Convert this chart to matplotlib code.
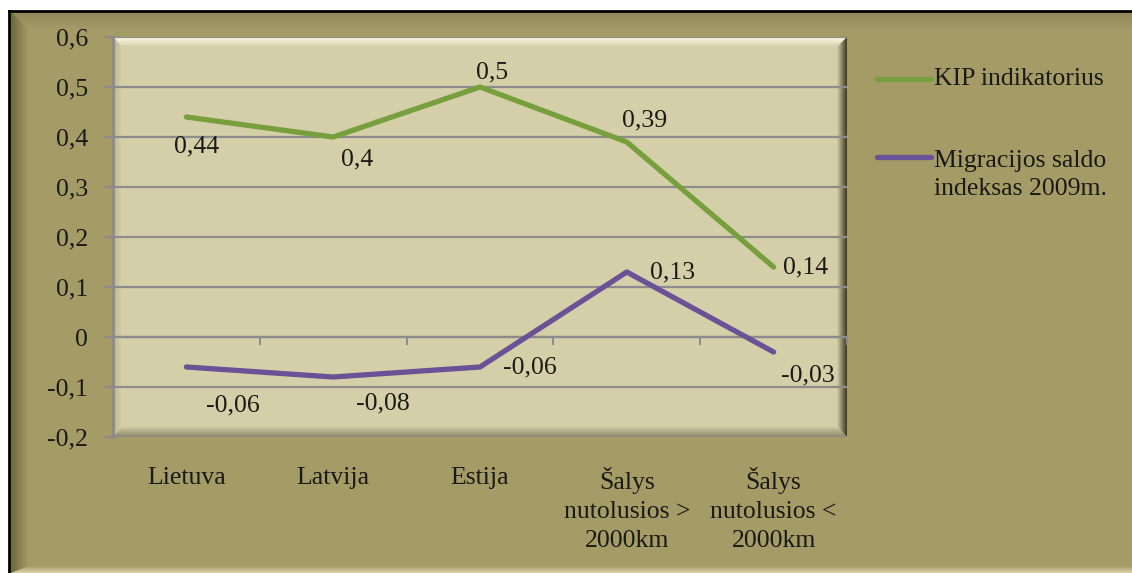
import matplotlib
matplotlib.use("Agg")
import matplotlib.pyplot as plt
from matplotlib.patches import Polygon, Rectangle
from matplotlib.lines import Line2D
from matplotlib.colors import to_rgb
import numpy as np

# ---------------- data ----------------
categories = ["Lietuva", "Latvija", "Estija",
              "Šalys\nnutolusios >\n2000km", "Šalys\nnutolusios <\n2000km"]
kip_values = [0.44, 0.4, 0.5, 0.39, 0.14]
migr_values = [-0.06, -0.08, -0.06, 0.13, -0.03]
series_names = ["KIP indikatorius", "Migracijos saldo\nindeksas 2009m."]
y_ticks = [-0.2, -0.1, 0, 0.1, 0.2, 0.3, 0.4, 0.5, 0.6]
y_tick_labels = ["-0,2", "-0,1", "0", "0,1", "0,2", "0,3", "0,4", "0,5", "0,6"]

# label offsets in pixels (dx, dy downwards positive)
kip_offsets = [(10, 29), (24, 22), (12, -15), (18, -22), (32, 0)]
migr_offsets = [(46, 38), (50, 26), (50, 0), (46, 0), (34, 23)]

W, H, DPI = 1132, 573, 100
FONT = "Liberation Serif"
FS = 18.5
TXT = "#1a1a14"
GREEN = "#789f3d"
PURPLE = "#6b5297"
OLIVE = "#a49b67"
PLOT_BG = "#d5cfa9"
GRID = "#8c8c8c"

plt.rcParams["font.family"] = [FONT, "DejaVu Serif"]

fig = plt.figure(figsize=(W / DPI, H / DPI), dpi=DPI)
fig.patch.set_facecolor("white")

# background axes in pixel coordinates
bg = fig.add_axes([0, 0, 1, 1], zorder=-5)
bg.set_xlim(0, W)
bg.set_ylim(H, 0)
bg.axis("off")


def grad(ax, verts, c0, c1, horizontal, z):
    xs = [v[0] for v in verts]
    ys = [v[1] for v in verts]
    x0, x1, y0, y1 = min(xs), max(xs), min(ys), max(ys)
    n = 64
    t = np.linspace(0, 1, n)
    a = np.array(to_rgb(c0))
    b = np.array(to_rgb(c1))
    cols = a[None, :] * (1 - t[:, None]) + b[None, :] * t[:, None]
    if horizontal:
        img = cols[None, :, :]
    else:
        img = cols[:, None, :]
    im = ax.imshow(img, extent=(x0, x1, y1, y0), origin="upper",
                   aspect="auto", interpolation="bilinear", zorder=z)
    poly = Polygon(verts, closed=True, transform=ax.transData,
                   facecolor="none", edgecolor="none")
    ax.add_patch(poly)
    im.set_clip_path(poly)


# outer chart area
bg.add_patch(Rectangle((9, 11), W - 9, H - 11, facecolor=OLIVE,
                       edgecolor="none", zorder=1))
# outer bevels
grad(bg, [(11, 12), (W, 12), (W, 30), (29, 30)], "#90875a", OLIVE, False, 2)
grad(bg, [(11, 12), (29, 30), (29, H - 7), (11, H)], "#6f6740", OLIVE, True, 2)
grad(bg, [(11, H), (29, H - 7), (W, H - 7), (W, H)], OLIVE, "#dcd5a6", False, 2)
bg.add_line(Line2D([9, W], [11, 11], color="black", lw=2.0, zorder=3))
bg.add_line(Line2D([9, 9], [11, H], color="black", lw=2.0, zorder=3))

# plot area (pixel bounds)
PL, PR, PT, PB = 113, 847, 37, 437
bg.add_patch(Rectangle((PL, PT), PR - PL, PB - PT, facecolor=PLOT_BG,
                       edgecolor="none", zorder=4))
grad(bg, [(PL, PT), (PR, PT), (PR - 9, PT + 10), (PL + 9, PT + 10)],
     "#fdfbe8", PLOT_BG, False, 5)
grad(bg, [(PL, PB), (PL + 9, PB - 11), (PR - 10, PB - 11), (PR, PB)],
     PLOT_BG, "#8c8766", False, 5)
grad(bg, [(PR - 10, PT + 10), (PR, PT), (PR, PB), (PR - 10, PB - 11)],
     PLOT_BG, "#3a3622", True, 5)
grad(bg, [(PL, PT), (PL + 9, PT + 10), (PL + 9, PB - 11), (PL, PB)],
     "#bdb790", PLOT_BG, True, 5)

# main axes
ax = fig.add_axes([PL / W, 1 - PB / H, (PR - PL) / W, (PB - PT) / H], zorder=1)
ax.patch.set_alpha(0)
ax.set_xlim(-0.5, len(categories) - 0.5)
ax.set_ylim(-0.2, 0.6)

ax.set_yticks(y_ticks)
ax.set_yticklabels(y_tick_labels, fontsize=FS, color=TXT, family=FONT)
ax.yaxis.grid(True, color=GRID, lw=1.6, zorder=0)
ax.set_axisbelow(True)
ax.tick_params(axis="y", length=6, width=1.6, color=GRID, pad=12)

ax.set_xticks(np.arange(-0.5, len(categories), 1.0))
ax.set_xticklabels([])
ax.tick_params(axis="x", length=6, width=1.4, color=GRID, direction="out")

for s in ["top", "right"]:
    ax.spines[s].set_visible(False)
ax.spines["left"].set_color(GRID)
ax.spines["left"].set_linewidth(2.2)
ax.spines["bottom"].set_position(("data", 0))
ax.spines["bottom"].set_color(GRID)
ax.spines["bottom"].set_linewidth(1.6)

x = np.arange(len(categories))
ax.plot(x, kip_values, color=GREEN, lw=3.8, solid_joinstyle="round",
        solid_capstyle="round", zorder=3)
ax.plot(x, migr_values, color=PURPLE, lw=3.8, solid_joinstyle="round",
        solid_capstyle="round", zorder=3)


def fmt(v):
    return ("%g" % v).replace(".", ",")


for xi, v, (dx, dy) in zip(x, kip_values, kip_offsets):
    ax.annotate(fmt(v), (xi, v), xytext=(dx, -dy), textcoords="offset pixels",
                ha="center", va="center", fontsize=FS, color=TXT,
                family=FONT, zorder=4, annotation_clip=False)
for xi, v, (dx, dy) in zip(x, migr_values, migr_offsets):
    ax.annotate(fmt(v), (xi, v), xytext=(dx, -dy), textcoords="offset pixels",
                ha="center", va="center", fontsize=FS, color=TXT,
                family=FONT, zorder=4, annotation_clip=False)

# category labels
for xi, lab in zip(x, categories):
    ax.annotate(lab, (xi, -0.2), xytext=(0, -30), textcoords="offset pixels",
                ha="center", va="top", fontsize=FS, color=TXT, family=FONT,
                linespacing=1.4, annotation_clip=False)

# legend (manual)
bg.add_line(Line2D([877, 931], [79, 79], color=GREEN, lw=3.8,
                   solid_capstyle="round", zorder=6))
bg.text(934, 79, series_names[0], ha="left", va="center", fontsize=FS,
        color=TXT, family=FONT, zorder=6)
bg.add_line(Line2D([877, 931], [157, 157], color=PURPLE, lw=3.8,
                   solid_capstyle="round", zorder=6))
bg.text(934, 150, series_names[1], ha="left", va="top", fontsize=FS,
        color=TXT, family=FONT, linespacing=1.35, zorder=6)

fig.savefig("out.png", dpi=DPI, facecolor=fig.get_facecolor())
